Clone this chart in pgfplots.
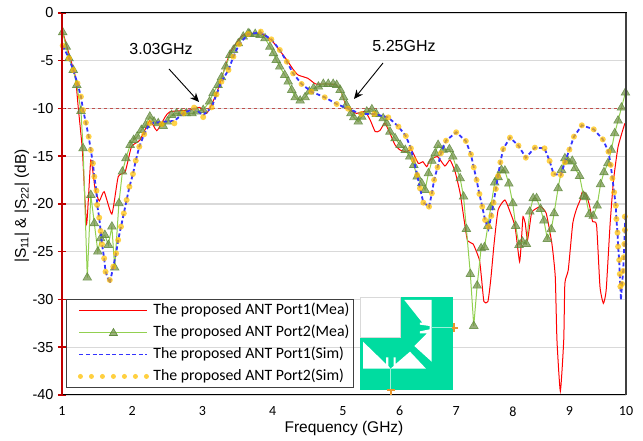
\documentclass[border=0pt]{standalone}
\usepackage{fontspec}
\setmainfont{Liberation Sans}
\newfontfamily\carlito{Carlito}
\usepackage{pgfplots}
\usepackage{pgfplotstable}
\pgfplotsset{compat=1.18}
\usetikzlibrary{arrows.meta}
\definecolor{spine}{HTML}{C00000}
\definecolor{meared}{HTML}{FF0000}
\definecolor{mealine}{HTML}{92D050}
\definecolor{triedge}{HTML}{5F8A3C}
\definecolor{trifill}{HTML}{6F8F45}
\definecolor{simblue}{HTML}{3333FF}
\definecolor{simyel}{HTML}{FFC000}
\definecolor{patch}{HTML}{00DCA0}
\definecolor{refline}{HTML}{C0504D}
\definecolor{portc}{HTML}{E8962E}

\pgfplotstableread{
f s
1.01 -1.95
1.11 -4.57
1.19 -6.67
1.23 -9.81
1.29 -14.35
1.35 -22.09
1.41 -15.39
1.47 -18.36
1.53 -19.69
1.60 -18.71
1.71 -21.05
1.80 -17.14
1.90 -16.61
1.99 -13.99
2.11 -13.30
2.25 -11.27
2.35 -12.32
2.47 -10.86
2.54 -10.33
2.82 -10.16
2.96 -9.88
3.06 -10.51
3.20 -8.41
3.39 -4.22
3.58 -2.30
3.82 -2.13
3.98 -2.83
4.10 -3.94
4.20 -4.92
4.29 -5.90
4.36 -6.49
4.50 -6.84
4.61 -7.43
4.77 -7.43
4.91 -7.54
4.98 -8.41
5.04 -9.46
5.12 -10.16
5.24 -10.51
5.39 -10.33
5.48 -11.20
5.57 -12.43
5.65 -12.32
5.74 -11.55
5.83 -12.60
5.92 -13.82
6.01 -14.35
6.12 -14.52
6.21 -14.35
6.33 -15.74
6.41 -15.57
6.48 -16.09
6.54 -15.39
6.67 -15.04
6.80 -16.02
6.89 -15.39
6.98 -16.61
7.07 -18.88
7.14 -21.67
7.20 -23.84
7.30 -24.19
7.41 -25.86
7.45 -27.95
7.49 -30.22
7.56 -30.22
7.61 -27.95
7.67 -24.12
7.74 -20.63
7.86 -19.58
7.95 -20.80
8.04 -22.37
8.12 -26.04
8.16 -23.07
8.18 -21.32
8.22 -22.02
8.26 -23.77
8.33 -20.97
8.39 -20.56
8.49 -20.28
8.59 -20.97
8.69 -24.12
8.75 -27.60
8.78 -34.24
8.84 -39.60
8.90 -34.24
8.92 -28.30
8.98 -26.90
9.06 -22.00
9.13 -20.45
9.19 -19.58
9.23 -18.70
9.30 -19.05
9.36 -20.28
9.41 -21.85
9.48 -22.20
9.54 -28.65
9.60 -30.40
9.65 -29.00
9.72 -22.00
9.78 -17.50
9.86 -14.00
9.98 -11.55
}\meaone

\pgfplotstableread{
f s
1.01 -2.02
1.06 -3.53
1.10 -4.75
1.16 -5.97
1.21 -7.54
1.27 -10.26
1.30 -14.17
1.36 -27.71
1.41 -19.06
1.46 -22.02
1.51 -24.99
1.55 -23.60
1.61 -23.25
1.66 -24.29
1.71 -22.37
1.75 -26.67
1.81 -19.93
1.86 -16.61
1.91 -15.22
1.97 -13.82
2.02 -13.30
2.07 -12.95
2.13 -12.25
2.19 -11.73
2.25 -10.86
2.31 -11.38
2.37 -11.55
2.44 -11.83
2.50 -11.38
2.56 -10.68
2.63 -10.51
2.70 -10.51
2.77 -10.51
2.85 -10.51
2.92 -10.33
3.01 -10.16
3.10 -9.28
3.15 -8.41
3.22 -7.54
3.27 -6.74
3.33 -5.62
3.39 -4.40
3.44 -3.87
3.51 -3.18
3.58 -2.48
3.65 -2.13
3.67 -2.20
3.75 -2.20
3.82 -2.30
3.89 -2.65
3.96 -3.53
4.01 -4.22
4.05 -4.92
4.10 -5.62
4.17 -6.49
4.22 -7.19
4.27 -8.06
4.32 -8.83
4.39 -9.18
4.46 -8.83
4.52 -8.24
4.58 -7.89
4.65 -7.71
4.72 -7.43
4.79 -7.43
4.86 -7.43
4.91 -7.54
4.96 -8.06
5.01 -8.83
5.06 -9.63
5.14 -10.51
5.19 -10.93
5.27 -11.38
5.33 -10.86
5.42 -10.33
5.51 -10.09
5.59 -10.58
5.71 -11.03
5.77 -11.55
5.83 -12.43
5.92 -13.12
6.01 -13.82
6.10 -14.35
6.18 -15.04
6.25 -15.92
6.31 -17.14
6.39 -17.84
6.45 -18.53
6.51 -16.79
6.57 -15.49
6.63 -14.69
6.68 -13.82
6.77 -14.34
6.88 -14.27
6.94 -15.04
7.01 -16.33
7.07 -17.31
7.13 -19.23
7.18 -22.62
7.25 -27.33
7.31 -32.77
7.37 -28.55
7.44 -24.64
7.50 -24.53
7.56 -22.30
7.61 -20.35
7.68 -17.76
7.74 -17.20
7.80 -16.44
7.86 -16.51
7.93 -17.87
8.00 -19.93
8.05 -22.30
8.11 -24.29
8.17 -23.94
8.24 -24.19
8.30 -20.80
8.36 -19.40
8.42 -19.40
8.49 -20.52
8.55 -21.74
8.61 -23.66
8.68 -22.65
8.73 -20.97
8.80 -18.36
8.86 -16.44
8.92 -15.22
8.98 -15.56
9.05 -15.49
9.10 -16.26
9.18 -17.07
9.25 -19.16
9.29 -19.30
9.35 -21.08
9.42 -21.25
9.49 -20.17
9.55 -17.94
9.61 -16.68
9.68 -15.74
9.74 -14.34
9.80 -12.60
9.86 -11.27
9.92 -9.91
9.99 -8.34
}\meatwo

\pgfplotstableread{
f s
1.01 -3.42
1.10 -4.75
1.16 -5.97
1.22 -7.36
1.27 -8.76
1.30 -10.16
1.34 -11.48
1.38 -12.95
1.41 -14.35
1.44 -15.74
1.46 -17.14
1.49 -18.60
1.50 -20.10
1.53 -21.43
1.55 -22.83
1.57 -24.22
1.60 -25.69
1.62 -27.09
1.68 -27.96
1.73 -26.56
1.77 -25.17
1.80 -23.77
1.84 -22.37
1.88 -20.98
1.92 -19.58
1.96 -18.19
2.01 -16.86
2.05 -15.46
2.10 -14.00
2.17 -12.70
2.25 -11.55
2.42 -11.62
2.60 -11.55
2.73 -10.50
2.88 -9.91
3.01 -10.90
3.13 -9.88
3.20 -8.52
3.27 -7.19
3.37 -5.97
3.44 -4.57
3.52 -3.28
3.65 -2.20
3.83 -1.95
3.98 -2.76
4.10 -3.87
4.20 -5.10
4.29 -6.32
4.41 -7.43
4.55 -8.24
4.74 -8.83
4.91 -9.53
5.09 -10.02
5.32 -10.58
5.55 -10.58
5.80 -10.93
5.98 -11.90
6.11 -12.88
6.20 -14.17
6.25 -15.39
6.31 -16.96
6.36 -18.36
6.42 -19.86
6.52 -20.28
6.57 -18.88
6.61 -17.48
6.67 -16.16
6.73 -14.69
6.82 -13.37
7.00 -12.49
7.17 -13.40
7.26 -14.80
7.31 -16.16
7.36 -17.48
7.41 -18.95
7.46 -20.28
7.51 -21.67
7.57 -22.37
7.62 -21.25
7.66 -19.86
7.70 -18.43
7.74 -17.06
7.78 -15.63
7.83 -14.24
7.95 -13.05
8.10 -13.89
8.23 -15.15
8.39 -14.10
8.56 -14.17
8.65 -15.49
8.72 -16.86
8.85 -16.96
8.92 -15.63
9.00 -14.31
9.08 -12.95
9.22 -11.76
9.43 -12.18
9.59 -13.23
9.69 -14.52
9.73 -15.91
9.76 -17.31
9.79 -18.78
9.82 -20.17
9.83 -21.57
9.85 -23.00
9.86 -24.46
9.88 -25.86
9.89 -27.33
9.90 -28.65
9.93 -28.37
9.95 -27.01
9.96 -25.58
9.97 -24.19
9.98 -22.72
9.98 -21.32
}\simtwo

\pgfplotstableread{
f s
1.01 -3.42
1.10 -4.75
1.16 -5.97
1.22 -7.36
1.27 -8.76
1.30 -10.16
1.34 -11.48
1.38 -12.95
1.41 -14.35
1.44 -15.74
1.46 -17.14
1.49 -18.60
1.50 -20.10
1.53 -21.43
1.55 -22.83
1.57 -24.22
1.60 -25.69
1.62 -27.09
1.68 -28.30
1.73 -26.56
1.77 -25.17
1.80 -23.77
1.84 -22.37
1.88 -20.98
1.92 -19.58
1.96 -18.19
2.01 -16.86
2.05 -15.46
2.10 -14.00
2.17 -12.70
2.25 -11.55
2.42 -11.40
2.60 -11.30
2.73 -10.50
2.88 -10.00
3.01 -10.70
3.13 -9.88
3.20 -8.52
3.27 -7.19
3.37 -5.97
3.44 -4.57
3.52 -3.28
3.65 -2.20
3.83 -2.05
3.98 -2.76
4.10 -3.87
4.20 -5.10
4.29 -6.32
4.41 -7.43
4.55 -8.24
4.74 -8.83
4.91 -9.53
5.09 -10.02
5.32 -10.58
5.55 -10.58
5.80 -10.93
5.98 -11.90
6.11 -12.88
6.20 -14.17
6.25 -15.39
6.31 -16.96
6.36 -18.36
6.42 -19.86
6.52 -20.28
6.57 -18.88
6.61 -17.48
6.67 -16.16
6.73 -14.69
6.82 -13.37
7.00 -12.49
7.17 -13.40
7.26 -14.80
7.31 -16.16
7.36 -17.48
7.41 -18.95
7.46 -20.28
7.51 -21.67
7.57 -22.60
7.62 -21.25
7.66 -19.86
7.70 -18.43
7.74 -17.06
7.78 -15.63
7.83 -14.24
7.95 -13.05
8.10 -13.89
8.23 -15.15
8.39 -14.10
8.56 -14.17
8.65 -15.49
8.72 -16.86
8.85 -16.96
8.92 -15.63
9.00 -14.31
9.08 -12.95
9.22 -11.76
9.43 -12.18
9.59 -13.23
9.69 -14.52
9.73 -15.91
9.76 -17.31
9.79 -18.78
9.82 -20.17
9.83 -21.57
9.85 -23.00
9.86 -24.46
9.88 -25.86
9.89 -27.33
9.91 -30.05
9.93 -28.37
9.95 -27.01
9.96 -25.58
9.97 -24.19
9.98 -22.72
9.99 -21.00
}\simone

\begin{document}
\begin{tikzpicture}[x=1pt,y=1pt]
\path[use as bounding box] (0,0) rectangle (643,441);
\begin{axis}[
  at={(62pt,46pt)}, anchor=south west,
  scale only axis, width=564pt, height=382pt,
  x coord trafo/.code={\pgfmathparse{#1<=5 ? #1 : 5+(#1-5)*0.8057}},
  xmin=1, xmax=10, ymin=-40, ymax=0,
  xtick={1,2,3,4,5,6,7,8,9,10},
  xticklabels={1,2,3,4,5,6,7,8,9,10},
  ytick={0,-5,-10,-15,-20,-25,-30,-35,-40},
  ytick pos=left,
  ymajorgrids,
  grid style={color=black!15, line width=1.4pt},
  axis line style={black, line width=1pt},
  x tick style={draw=none},
  y tick style={spine, line width=1.5pt},
  tick align=center,
  major tick length=8pt,
  xticklabel style={font=\carlito\fontsize{14}{16}\selectfont, yshift=-4pt},
  yticklabel style={font=\fontsize{14.5}{16}\selectfont, xshift=-1pt},
  /pgf/number format/assume math mode=true,
  xlabel={Frequency (GHz)},
  ylabel={|S\textsubscript{11}| \& |S\textsubscript{22}| (dB)},
  xlabel style={font=\fontsize{15.5}{17}\selectfont, at={(axis description cs:0.5,-0.087)}, anchor=center},
  ylabel style={font=\fontsize{15.5}{17}\selectfont, at={(axis description cs:-0.071,0.495)}, anchor=center, rotate=0},
  clip mode=individual,
  legend cell align=left,
  legend style={
    at={(rel axis cs:0.0071,0.2513)}, anchor=north west,
    draw=black!75, line width=0.9pt, fill=none,
    font=\carlito\fontsize{15.8}{18}\selectfont,
    row sep=6pt, inner xsep=3pt, inner ysep=3pt,
    nodes={inner sep=1pt, text height=11pt, text depth=3pt},
  },
]
\addplot[refline, dashed, line width=0.9pt, forget plot] coordinates {(1,-10) (10,-10)};
\addplot[meared, line width=1pt, smooth, tension=0.3, no markers,
  legend image code/.code={\path[draw=none,fill=none] (0pt,0pt) -- (83pt,0pt);\draw[meared, line width=1pt] (10pt,0pt) -- (78pt,0pt);}]
  table[x=f,y=s] {\meaone};
\addlegendentry{The proposed ANT Port1(Mea)}
\addplot[mealine, line width=1pt, mark=triangle*,
  mark size=5pt, mark options={solid, draw=triedge, fill=trifill, fill opacity=0.7, draw opacity=0.8, line width=0.6pt},
  legend image code/.code={\path[draw=none,fill=none] (0pt,0pt) -- (83pt,0pt);\draw[mealine, line width=1pt] (10pt,0pt) -- (78pt,0pt);
    \draw[draw=triedge, fill=trifill, fill opacity=0.7, line width=0.6pt] (44pt,4pt) -- (40pt,-3pt) -- (48pt,-3pt) -- cycle;}]
  table[x=f,y=s] {\meatwo};
\addlegendentry{The proposed ANT Port2(Mea)}
\addplot[simblue, line width=1.8pt, dash pattern=on 4pt off 2.6pt, no markers,
  legend image code/.code={\path[draw=none,fill=none] (0pt,0pt) -- (83pt,0pt);\draw[simblue, line width=1.2pt, dash pattern=on 4pt off 2.6pt] (10pt,0pt) -- (78pt,0pt);}]
  table[x=f,y=s] {\simone};
\addlegendentry{The proposed ANT Port1(Sim)}
\addplot[only marks, mark=*, mark size=3pt, draw=simyel, fill=simyel, opacity=0.72,
  mark options={draw=simyel, fill=simyel, draw opacity=0, fill opacity=0.72},
  legend image code/.code={\path[draw=none,fill=none] (0pt,0pt) -- (83pt,0pt);\foreach \q in {11,22,...,77}{\fill[simyel, draw=none, fill opacity=0.75] (\q pt,0pt) circle (2.5pt);}}]
  table[x=f,y=s] {\simtwo};
\addlegendentry{The proposed ANT Port2(Sim)}
\draw[spine, line width=2.4pt] (rel axis cs:0,0) -- (rel axis cs:0,1);
\draw[black!75, line width=1.5pt] (rel axis cs:1,0) -- (rel axis cs:1,1);
\end{axis}

% annotations
\node[font=\fontsize{16}{18}\selectfont] at (161,392) {3.03GHz};
\node[font=\fontsize{16}{18}\selectfont] at (404,395) {5.25GHz};
\draw[black, line width=0.9pt, -{Stealth[length=9pt,width=8pt]}] (169,372) -- (199,339);
\draw[black, line width=0.9pt, -{Stealth[length=9pt,width=8pt]}] (383,378) -- (354,342);

% antenna sketch (zoom crop coordinates)
\begin{scope}[shift={(355,151)}, x=0.3333pt, y=-0.3333pt]
  \fill[patch] (15,22) rectangle (295,300);
  \fill[white] (15,22) rectangle (137,143);
  \draw[black!15, line width=0.8pt] (15,143) -- (15,22) -- (137,22) -- (137,143) -- cycle;
  \fill[white] (148,30) -- (230,30) -- (230,215) -- (178,168) -- (216,130) -- (195,130) -- (195,124) -- (224,118) -- (224,108) -- (195,104) -- (195,98) -- (202,98) -- cycle;
  \fill[white] (24,155) -- (93,222) -- (93,202) -- (100,202) -- (100,228) -- (107,236) -- (24,236) -- cycle;
  \fill[white] (116,202) -- (122,202) -- (122,222) -- (165,185) -- (213,236) -- (107,236) -- (116,228) -- cycle;
  \draw[white!60!patch, line width=0.6pt] (228,113) -- (295,113);
  \draw[white!60!patch, line width=0.6pt] (107,236) -- (107,300);
  \draw[portc, line width=2.2pt] (296,100) -- (296,126);
  \draw[portc, line width=2.2pt] (290,113) -- (309,113);
  \draw[portc, line width=2.2pt] (95,301) -- (121,301);
  \draw[portc, line width=2.2pt] (108,300) -- (108,315);
\end{scope}
\end{tikzpicture}
\end{document}
